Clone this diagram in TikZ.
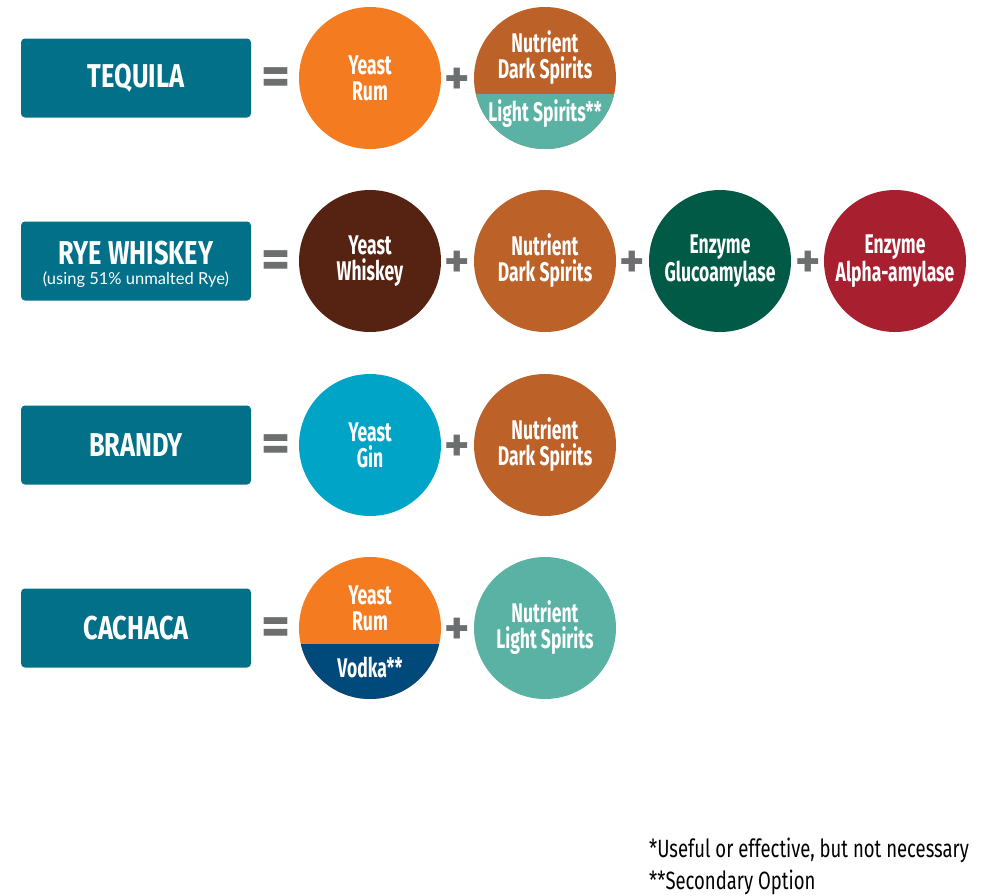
\documentclass[tikz,border=0pt]{standalone}
\usepackage{fontspec}
\setmainfont{Fira Sans}
\newfontfamily\condfont[FakeStretch=0.65]{Fira Sans}
\newfontfamily\headfont[FakeStretch=0.77]{Fira Sans}
\newfontfamily\notefont[FakeStretch=0.74]{Fira Sans}
\newfontfamily\subfont{Lato}
\usepackage{tikz}
\usetikzlibrary{positioning}
\definecolor{titlecolor}{RGB}{3,112,138}
\definecolor{rumcolor}{RGB}{244,123,32}
\definecolor{darkcolor}{RGB}{188,98,41}
\definecolor{lightcolor}{RGB}{90,178,165}
\definecolor{whiskeycolor}{RGB}{86,34,18}
\definecolor{glucocolor}{RGB}{0,90,70}
\definecolor{alphacolor}{RGB}{168,31,48}
\definecolor{gincolor}{RGB}{0,164,199}
\definecolor{vodkacolor}{RGB}{0,73,123}
\definecolor{opgray}{RGB}{109,110,112}

\begin{document}
\begin{tikzpicture}[x=1pt,y=-1pt,node distance=175pt]
 \tikzstyle{title}=[fill=titlecolor,rounded corners=4pt,minimum width=230pt,minimum height=79pt,text=white,align=center,font=\headfont\bfseries\fontsize{33}{33}\selectfont]
 \tikzstyle{headtext}=[text=white,inner sep=0pt,font=\headfont\bfseries\fontsize{33}{33}\selectfont]
 \tikzstyle{ingr}=[circle,minimum size=142pt,inner sep=0pt,text=white,align=center,font=\condfont\bfseries\fontsize{27}{26}\selectfont]
 \tikzstyle{lbl}=[text=white,align=center,inner sep=0pt,font=\condfont\bfseries\fontsize{27}{26}\selectfont]
 \tikzstyle{op}=[text=opgray,inner sep=0pt,font=\bfseries\fontsize{56}{56}\selectfont]
 \tikzstyle{plusop}=[text=opgray,inner sep=0pt,font=\bfseries\fontsize{48}{48}\selectfont]
 \tikzstyle{note}=[anchor=north west,align=left,inner sep=0pt,font=\notefont\fontsize{25}{32}\selectfont]

 \useasboundingbox (0,0) rectangle (982,895);

   % tequila
   \node[title] (tequila) at (136,78) {TEQUILA};
   \node[op] (eq1) at (276,82) {=};
   \node[ingr,fill=rumcolor] (yeast1) at (370,78) {Yeast\\Rum};
   \node[plusop] (plus1) at (457,81) {+};
   \node[ingr,fill=darkcolor,path picture={\fill[lightcolor] ([yshift=-16pt]path picture bounding box.west) rectangle (path picture bounding box.south east);}] (nutr1) [right of = yeast1] {};
   \node[lbl] (nutr1top) at ([yshift=20pt]nutr1.center) {Nutrient\\Dark Spirits};
   \node[lbl] (nutr1bot) at ([yshift=-36pt]nutr1.center) {Light Spirits**};

   % rye whiskey
   \node[title] (rye) at (136,261) {};
   \node[headtext] (ryetop) at ([yshift=8pt]rye.center) {RYE WHISKEY};
   \node[text=white,inner sep=0pt,font=\subfont\fontsize{16.5}{18}\selectfont] (ryebot) at ([yshift=-19pt]rye.center) {(using 51\% unmalted Rye)};
   \node[op] (eq2) at (276,265) {=};
   \node[ingr,fill=whiskeycolor] (yeast2) at (370,261) {Yeast\\Whiskey};
   \node[plusop] (plus2) at (457,264) {+};
   \node[ingr,fill=darkcolor] (nutr2) [right of = yeast2] {Nutrient\\Dark Spirits};
   \node[plusop] (plus3) at (632,264) {+};
   \node[ingr,fill=glucocolor] (gluco) [right of = nutr2] {Enzyme\\Glucoamylase};
   \node[plusop] (plus4) at (808,264) {+};
   \node[ingr,fill=alphacolor] (alpha) [right of = gluco] {Enzyme\\Alpha-amylase};

   % brandy
   \node[title] (brandy) at (136,445) {BRANDY};
   \node[op] (eq3) at (276,449) {=};
   \node[ingr,fill=gincolor] (yeast3) at (370,445) {Yeast\\Gin};
   \node[plusop] (plus5) at (457,448) {+};
   \node[ingr,fill=darkcolor] (nutr3) [right of = yeast3] {Nutrient\\Dark Spirits};

   % cachaca
   \node[title] (cachaca) at (136,628) {CACHACA};
   \node[op] (eq4) at (276,632) {=};
   \node[ingr,fill=rumcolor,path picture={\fill[vodkacolor] ([yshift=-16pt]path picture bounding box.west) rectangle (path picture bounding box.south east);}] (yeast4) at (370,628) {};
   \node[lbl] (yeast4top) at ([yshift=20pt]yeast4.center) {Yeast\\Rum};
   \node[lbl] (yeast4bot) at ([yshift=-39pt]yeast4.center) {Vodka**};
   \node[plusop] (plus6) at (457,631) {+};
   \node[ingr,fill=lightcolor] (nutr4) [right of = yeast4] {Nutrient\\Light Spirits};

   % footnotes
   \node[note] (notes) at (649,838) {*Useful or effective, but not necessary\\**Secondary Option};

\end{tikzpicture}
\end{document}
